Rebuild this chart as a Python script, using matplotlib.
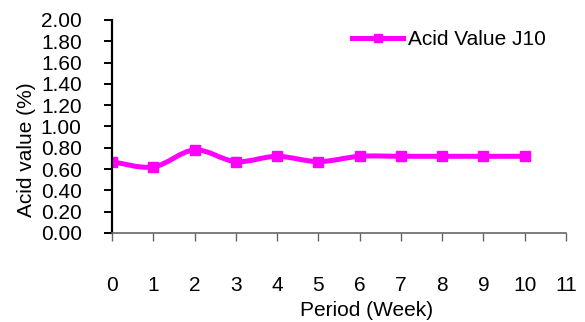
import numpy as np
import matplotlib
matplotlib.use('Agg')
import matplotlib.pyplot as plt
from matplotlib.path import Path
from matplotlib.patches import PathPatch
from matplotlib.lines import Line2D

plt.rcParams['font.family'] = ['Liberation Sans', 'DejaVu Sans']

# Data
weeks = [0, 1, 2, 3, 4, 5, 6, 7, 8, 9, 10]
acid_value = [0.67, 0.62, 0.78, 0.67, 0.72, 0.67, 0.72, 0.72, 0.72, 0.72, 0.72]
series_label = 'Acid Value J10'
x_ticks = list(range(0, 12))
y_ticks = [i * 0.2 for i in range(11)]

LINE_COLOR = '#FF00FF'
FONT_SIZE = 15


def smooth_path(xs, ys, tension=1 / 6):
    # Excel-like smoothed line: cubic bezier through each point
    xs = np.asarray(xs, float)
    ys = np.asarray(ys, float)
    n = len(xs)
    verts = [(xs[0], ys[0])]
    codes = [Path.MOVETO]
    for i in range(n - 1):
        p0 = np.array([xs[max(i - 1, 0)], ys[max(i - 1, 0)]])
        p1 = np.array([xs[i], ys[i]])
        p2 = np.array([xs[i + 1], ys[i + 1]])
        p3 = np.array([xs[min(i + 2, n - 1)], ys[min(i + 2, n - 1)]])
        c1 = p1 + (p2 - p0) * tension
        c2 = p2 - (p3 - p1) * tension
        verts += [tuple(c1), tuple(c2), tuple(p2)]
        codes += [Path.CURVE4] * 3
    return Path(verts, codes)


fig = plt.figure(figsize=(5.85, 3.22), dpi=100)
ax = fig.add_axes([0.1915, 0.2764, 0.7760, 0.6616])

patch = PathPatch(smooth_path(weeks, acid_value), facecolor='none',
                  edgecolor=LINE_COLOR, lw=3.6, capstyle='round', joinstyle='round')
ax.add_patch(patch)
ax.plot(weeks, acid_value, linestyle='none', marker='s', markersize=7.5,
        color=LINE_COLOR)

ax.set_xlim(0, 11)
ax.set_ylim(0, 2.0)
ax.set_xticks(x_ticks)
ax.set_yticks(y_ticks)
ax.set_yticklabels([f'{v:.2f}' for v in y_ticks])

for s in ['top', 'right']:
    ax.spines[s].set_visible(False)
ax.spines['left'].set_color('black')
ax.spines['left'].set_linewidth(1.6)
ax.spines['bottom'].set_color('#666666')
ax.spines['bottom'].set_linewidth(1.2)

ax.tick_params(axis='y', direction='out', length=5.8, width=1.4, colors='black',
               pad=16, labelsize=FONT_SIZE)
ax.tick_params(axis='x', direction='out', length=5.8, width=1.0, color='#666666',
               labelcolor='black', pad=25, labelsize=FONT_SIZE)

ax.set_xlabel('Period (Week)', fontsize=FONT_SIZE)
ax.xaxis.set_label_coords(0.56, -0.32)
ax.set_ylabel('Acid value (%)', fontsize=FONT_SIZE)
ax.yaxis.set_label_coords(-0.167, 0.39)

handle = Line2D([], [], color=LINE_COLOR, lw=3.6, marker='s', markersize=6)
ax.legend([handle], [series_label], loc='center left', bbox_to_anchor=(0.529, 0.906),
          borderaxespad=0, borderpad=0, frameon=False, fontsize=FONT_SIZE,
          handlelength=2.45, handletextpad=0.24)

fig.savefig('out.png', dpi=100)
